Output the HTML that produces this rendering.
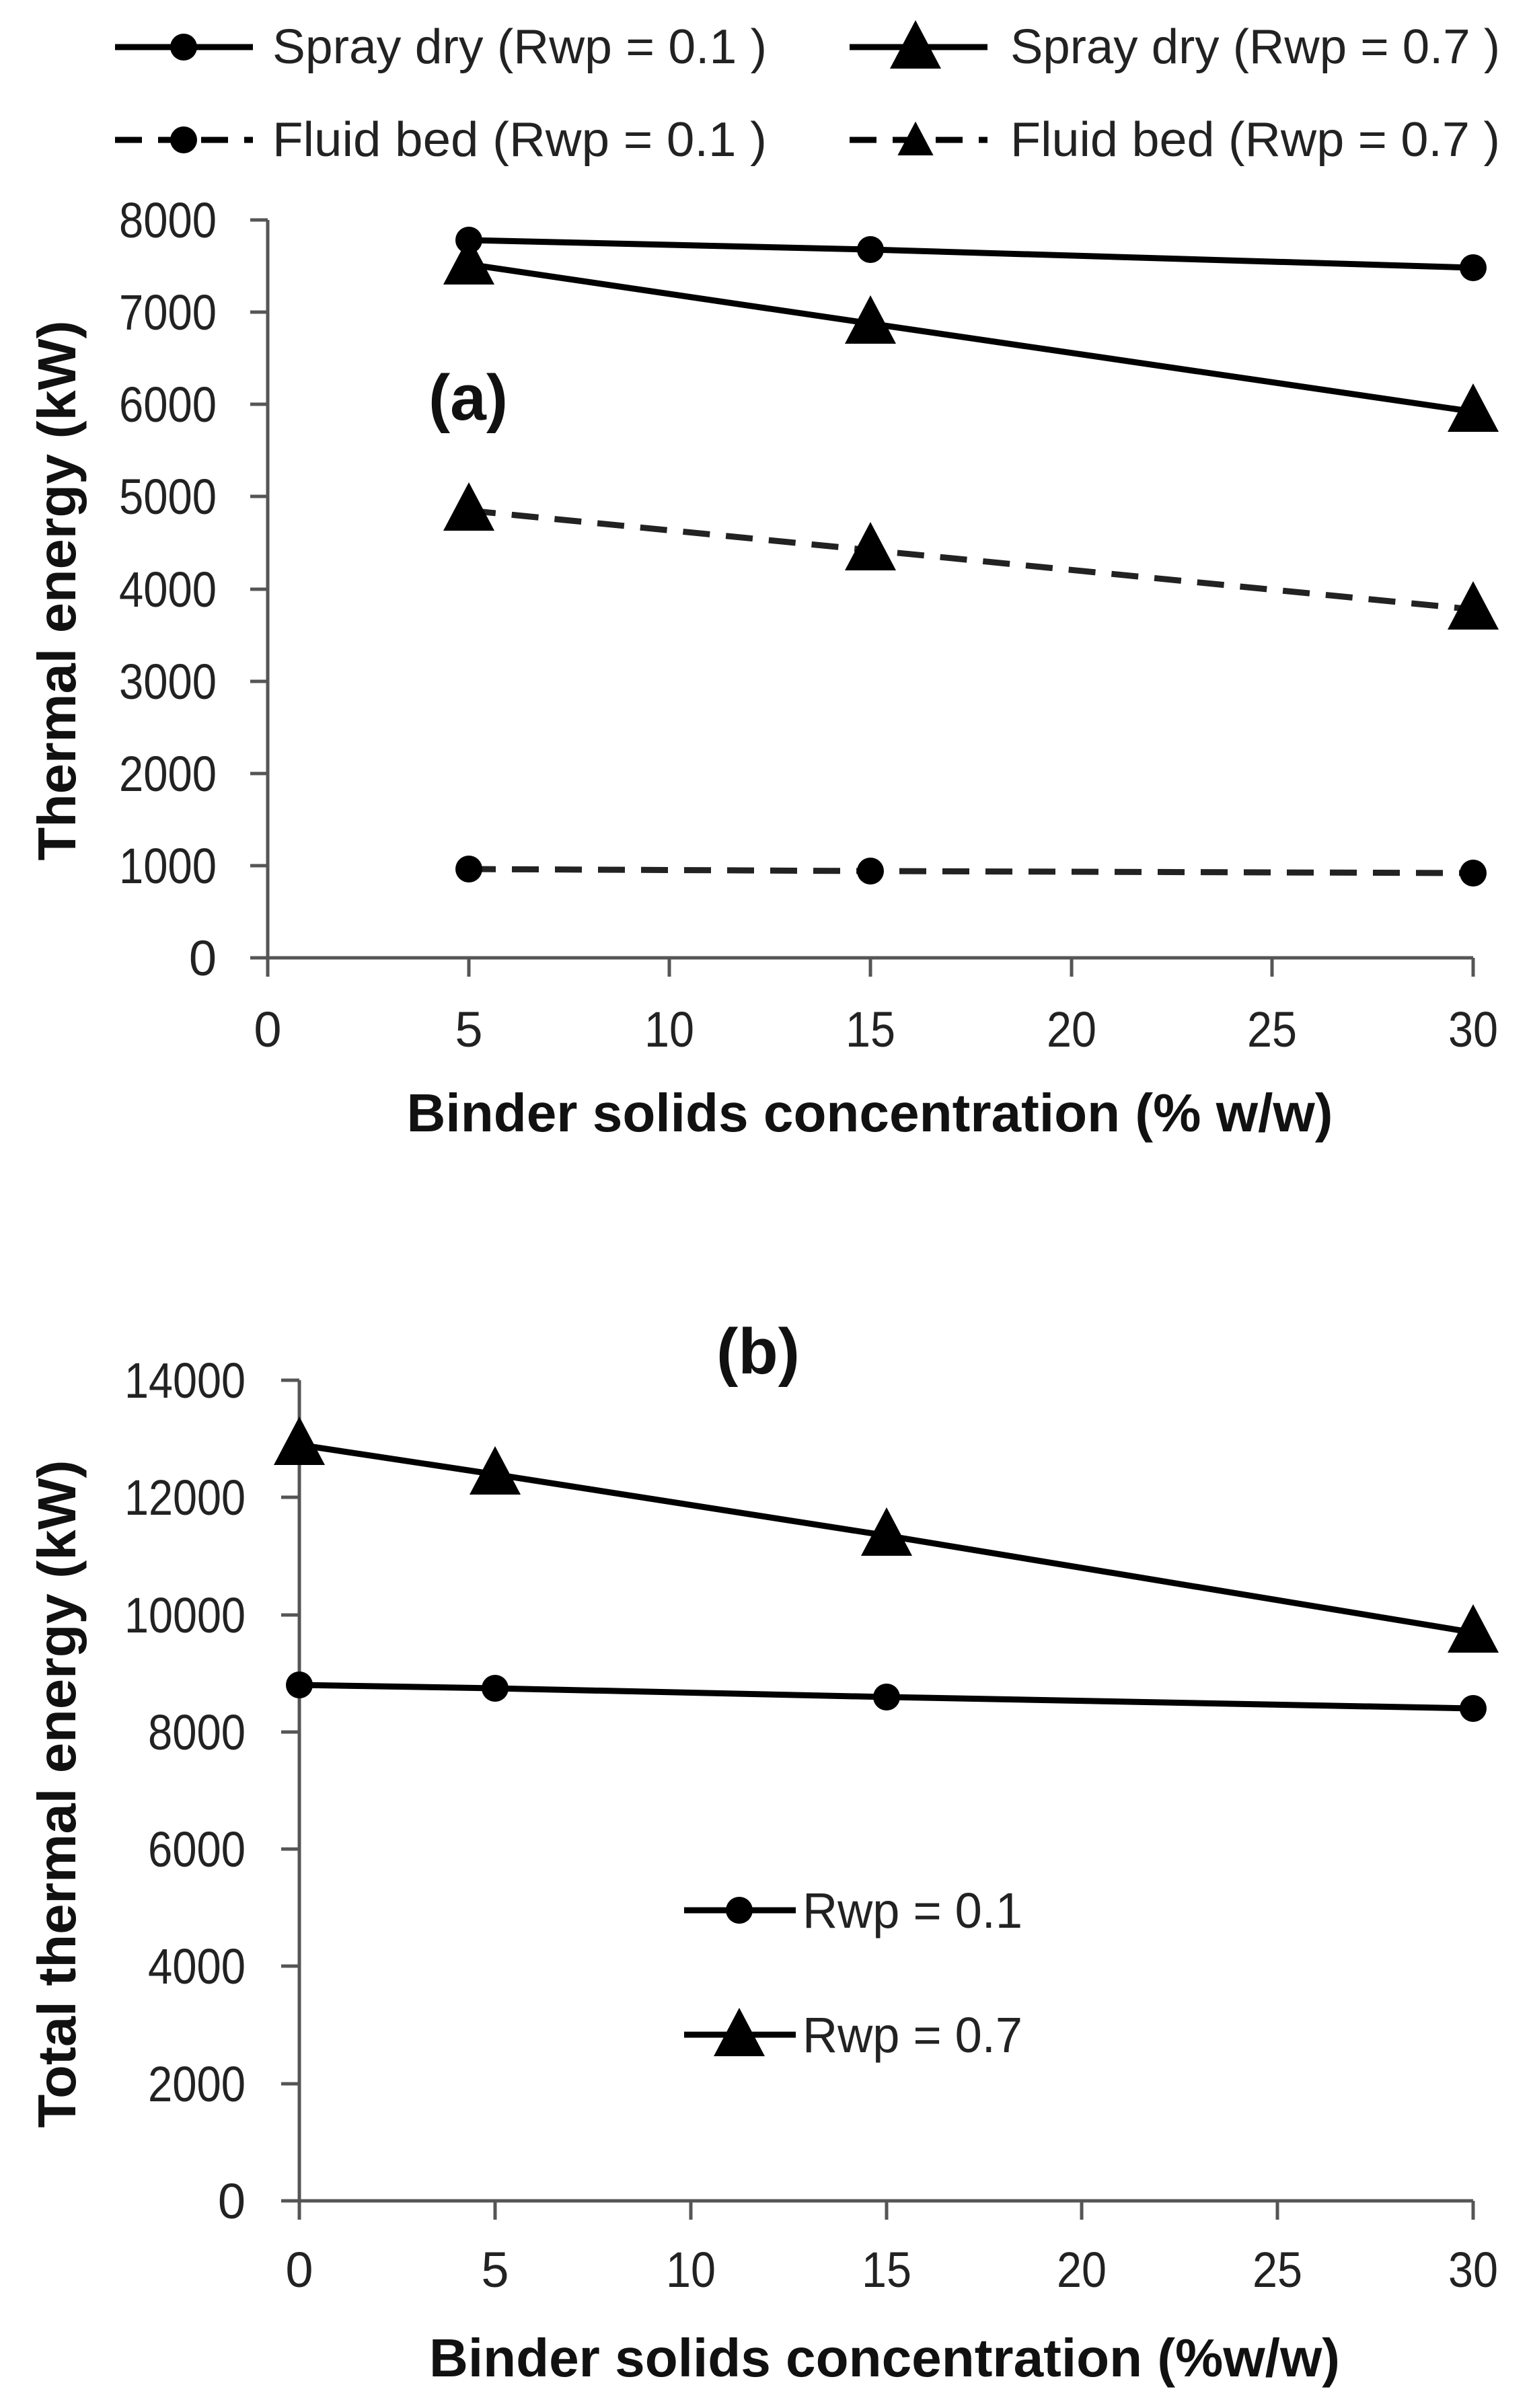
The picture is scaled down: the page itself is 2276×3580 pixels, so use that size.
<!DOCTYPE html>
<html><head><meta charset="utf-8"><style>html,body{margin:0;padding:0;background:#fff}svg{display:block}</style></head>
<body>
<svg xmlns="http://www.w3.org/2000/svg" width="2276" height="3580" viewBox="0 0 2276 3580" font-family="Liberation Sans, sans-serif">
<defs>
<path id="tri" d="M0,-42 L38,30 L-38,30 Z" fill="#000"/>
</defs>
<!-- Legend A -->
<g stroke="#000" stroke-width="9" fill="none">
<line x1="171" y1="70" x2="376" y2="70"/>
<line x1="1263" y1="70" x2="1468" y2="70"/>
<line x1="171" y1="208" x2="376" y2="208" stroke-dasharray="40,24"/>
<line x1="1263" y1="208" x2="1468" y2="208" stroke-dasharray="40,24"/>
</g>
<circle cx="273" cy="70" r="20"/>
<use href="#tri" x="1361" y="72"/>
<circle cx="273" cy="208" r="20"/>
<g transform="translate(1361,210) scale(0.7)"><path d="M0,-42 L38,30 L-38,30 Z"/></g>
<g font-size="72" fill="#222">
<text x="405" y="94" textLength="735" lengthAdjust="spacingAndGlyphs">Spray dry (Rwp = 0.1 )</text>
<text x="1502" y="94" textLength="728" lengthAdjust="spacingAndGlyphs">Spray dry (Rwp = 0.7 )</text>
<text x="405" y="232" textLength="735" lengthAdjust="spacingAndGlyphs">Fluid bed (Rwp = 0.1 )</text>
<text x="1502" y="232" textLength="728" lengthAdjust="spacingAndGlyphs">Fluid bed (Rwp = 0.7 )</text>
</g>

<!-- Panel A axes -->
<g stroke="#555" stroke-width="5">
<line x1="398" y1="327" x2="398" y2="1452"/>
<line x1="372" y1="1424" x2="2190" y2="1424"/>
<line x1="372" y1="327" x2="398" y2="327"/>
<line x1="372" y1="464" x2="398" y2="464"/>
<line x1="372" y1="601" x2="398" y2="601"/>
<line x1="372" y1="738" x2="398" y2="738"/>
<line x1="372" y1="876" x2="398" y2="876"/>
<line x1="372" y1="1013" x2="398" y2="1013"/>
<line x1="372" y1="1150" x2="398" y2="1150"/>
<line x1="372" y1="1287" x2="398" y2="1287"/>
<line x1="697" y1="1424" x2="697" y2="1452"/>
<line x1="995" y1="1424" x2="995" y2="1452"/>
<line x1="1294" y1="1424" x2="1294" y2="1452"/>
<line x1="1593" y1="1424" x2="1593" y2="1452"/>
<line x1="1891" y1="1424" x2="1891" y2="1452"/>
<line x1="2190" y1="1424" x2="2190" y2="1452"/>
</g>
<g font-size="74" fill="#222" text-anchor="end">
<text x="322" y="353" textLength="145" lengthAdjust="spacingAndGlyphs">8000</text>
<text x="322" y="490" textLength="145" lengthAdjust="spacingAndGlyphs">7000</text>
<text x="322" y="627" textLength="145" lengthAdjust="spacingAndGlyphs">6000</text>
<text x="322" y="764" textLength="145" lengthAdjust="spacingAndGlyphs">5000</text>
<text x="322" y="902" textLength="145" lengthAdjust="spacingAndGlyphs">4000</text>
<text x="322" y="1039" textLength="145" lengthAdjust="spacingAndGlyphs">3000</text>
<text x="322" y="1176" textLength="145" lengthAdjust="spacingAndGlyphs">2000</text>
<text x="322" y="1313" textLength="145" lengthAdjust="spacingAndGlyphs">1000</text>
<text x="322" y="1450">0</text>
</g>
<g font-size="74" fill="#222" text-anchor="middle">
<text x="398" y="1556">0</text>
<text x="697" y="1556">5</text>
<text x="995" y="1556" textLength="74" lengthAdjust="spacingAndGlyphs">10</text>
<text x="1294" y="1556" textLength="74" lengthAdjust="spacingAndGlyphs">15</text>
<text x="1593" y="1556" textLength="74" lengthAdjust="spacingAndGlyphs">20</text>
<text x="1891" y="1556" textLength="74" lengthAdjust="spacingAndGlyphs">25</text>
<text x="2190" y="1556" textLength="74" lengthAdjust="spacingAndGlyphs">30</text>
</g>
<text x="1293" y="1682" font-size="80" font-weight="bold" fill="#111" text-anchor="middle" textLength="1377" lengthAdjust="spacingAndGlyphs">Binder solids concentration (% w/w)</text>
<text transform="translate(112,878) rotate(-90)" font-size="80" font-weight="bold" fill="#111" text-anchor="middle" textLength="803" lengthAdjust="spacingAndGlyphs">Thermal energy (kW)</text>
<text x="696" y="624" font-size="96" font-weight="bold" fill="#111" text-anchor="middle" textLength="118" lengthAdjust="spacingAndGlyphs">(a)</text>

<!-- Panel A series -->
<g stroke="#000" stroke-width="9" fill="none">
<polyline points="697,357 1294,371 2190,398"/>
<polyline points="697,393 1294,481 2190,612"/>
<polyline points="697,759 1294,818 2190,906" stroke="#222" stroke-dasharray="40,24"/>
<polyline points="697,1292 1294,1295 2190,1298" stroke="#222" stroke-dasharray="40,24"/>
</g>
<g fill="#000">
<circle cx="697" cy="357" r="20"/><circle cx="1294" cy="371" r="20"/><circle cx="2190" cy="398" r="20"/>
<use href="#tri" x="697" y="393"/><use href="#tri" x="1294" y="481"/><use href="#tri" x="2190" y="612"/>
<use href="#tri" x="697" y="759"/><use href="#tri" x="1294" y="818"/><use href="#tri" x="2190" y="906"/>
<circle cx="697" cy="1292" r="20"/><circle cx="1294" cy="1295" r="20"/><circle cx="2190" cy="1298" r="20"/>
</g>

<!-- Panel B axes -->
<g stroke="#555" stroke-width="5">
<line x1="445" y1="2052" x2="445" y2="3300"/>
<line x1="418" y1="3272" x2="2190" y2="3272"/>
<line x1="418" y1="2052" x2="445" y2="2052"/>
<line x1="418" y1="2226" x2="445" y2="2226"/>
<line x1="418" y1="2401" x2="445" y2="2401"/>
<line x1="418" y1="2575" x2="445" y2="2575"/>
<line x1="418" y1="2749" x2="445" y2="2749"/>
<line x1="418" y1="2923" x2="445" y2="2923"/>
<line x1="418" y1="3098" x2="445" y2="3098"/>
<line x1="736" y1="3272" x2="736" y2="3300"/>
<line x1="1027" y1="3272" x2="1027" y2="3300"/>
<line x1="1318" y1="3272" x2="1318" y2="3300"/>
<line x1="1608" y1="3272" x2="1608" y2="3300"/>
<line x1="1899" y1="3272" x2="1899" y2="3300"/>
<line x1="2190" y1="3272" x2="2190" y2="3300"/>
</g>
<g font-size="74" fill="#222" text-anchor="end">
<text x="365" y="2078" textLength="180" lengthAdjust="spacingAndGlyphs">14000</text>
<text x="365" y="2252" textLength="180" lengthAdjust="spacingAndGlyphs">12000</text>
<text x="365" y="2427" textLength="180" lengthAdjust="spacingAndGlyphs">10000</text>
<text x="365" y="2601" textLength="145" lengthAdjust="spacingAndGlyphs">8000</text>
<text x="365" y="2775" textLength="145" lengthAdjust="spacingAndGlyphs">6000</text>
<text x="365" y="2949" textLength="145" lengthAdjust="spacingAndGlyphs">4000</text>
<text x="365" y="3124" textLength="145" lengthAdjust="spacingAndGlyphs">2000</text>
<text x="365" y="3298">0</text>
</g>
<g font-size="74" fill="#222" text-anchor="middle">
<text x="445" y="3400">0</text>
<text x="736" y="3400">5</text>
<text x="1027" y="3400" textLength="74" lengthAdjust="spacingAndGlyphs">10</text>
<text x="1318" y="3400" textLength="74" lengthAdjust="spacingAndGlyphs">15</text>
<text x="1608" y="3400" textLength="74" lengthAdjust="spacingAndGlyphs">20</text>
<text x="1899" y="3400" textLength="74" lengthAdjust="spacingAndGlyphs">25</text>
<text x="2190" y="3400" textLength="74" lengthAdjust="spacingAndGlyphs">30</text>
</g>
<text x="1315" y="3533" font-size="80" font-weight="bold" fill="#111" text-anchor="middle" textLength="1354" lengthAdjust="spacingAndGlyphs">Binder solids concentration (%w/w)</text>
<text transform="translate(112,2667) rotate(-90)" font-size="80" font-weight="bold" fill="#111" text-anchor="middle" textLength="993" lengthAdjust="spacingAndGlyphs">Total thermal energy (kW)</text>
<text x="1127" y="2042" font-size="96" font-weight="bold" fill="#111" text-anchor="middle" textLength="124" lengthAdjust="spacingAndGlyphs">(b)</text>

<!-- Panel B series -->
<g stroke="#000" stroke-width="9" fill="none">
<polyline points="445,2148 736,2192 1318,2283 2190,2427"/>
<polyline points="445,2505 736,2510 1318,2523 2190,2540"/>
<line x1="1017" y1="2840" x2="1183" y2="2840"/>
<line x1="1017" y1="3025" x2="1183" y2="3025"/>
</g>
<g fill="#000">
<use href="#tri" x="445" y="2148"/><use href="#tri" x="736" y="2192"/><use href="#tri" x="1318" y="2283"/><use href="#tri" x="2190" y="2427"/>
<circle cx="445" cy="2505" r="20"/><circle cx="736" cy="2510" r="20"/><circle cx="1318" cy="2523" r="20"/><circle cx="2190" cy="2540" r="20"/>
<circle cx="1099" cy="2840" r="20"/>
<use href="#tri" x="1099" y="3027"/>
</g>
<g font-size="74" fill="#222">
<text x="1193" y="2866" textLength="327" lengthAdjust="spacingAndGlyphs">Rwp = 0.1</text>
<text x="1193" y="3051" textLength="327" lengthAdjust="spacingAndGlyphs">Rwp = 0.7</text>
</g>
</svg>
</body></html>
